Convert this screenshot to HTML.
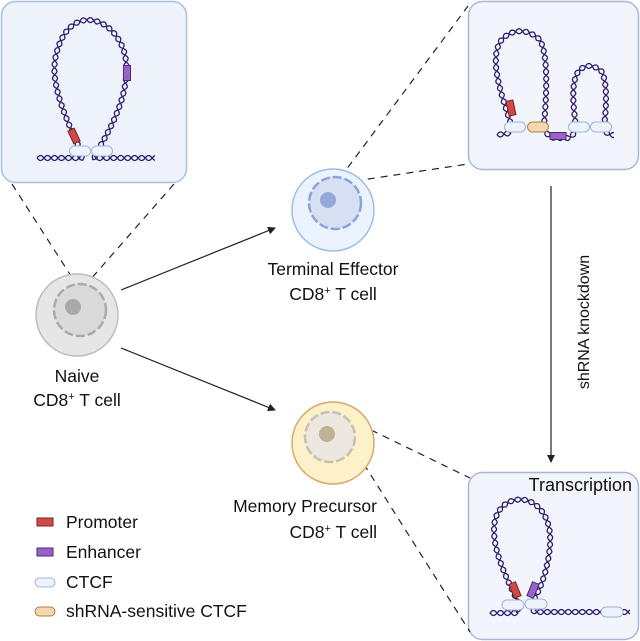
<!DOCTYPE html>
<html><head><meta charset="utf-8">
<style>
body{margin:0;background:#fff;}
svg{display:block;}
text{font-family:"Liberation Sans",sans-serif;fill:#111;}
</style></head>
<body>
<svg id="s" width="640" height="641" viewBox="0 0 640 641" xmlns="http://www.w3.org/2000/svg">
<defs>
<marker id="ah" markerWidth="8" markerHeight="8" refX="7" refY="4" orient="auto" markerUnits="userSpaceOnUse">
<path d="M0,0 L8,4 L0,8 Z" fill="#222"/></marker>
</defs>
<rect x="1.5" y="1.5" width="185" height="181" rx="14" fill="#eef3fb" stroke="#a9bde0" stroke-width="1.5"/>
<rect x="468.5" y="1.5" width="170" height="168" rx="14" fill="#f2f5fb" stroke="#a9b6d6" stroke-width="1.5"/>
<rect x="468.5" y="472.5" width="170" height="167" rx="14" fill="#f2f5fb" stroke="#a9b6d6" stroke-width="1.5"/>

<g stroke="#222" stroke-width="1.2" stroke-dasharray="7,6" fill="none">
<path d="M12,184 L80,290"/>
<path d="M174,184 L90,280"/>
<path d="M340,178 L468,6"/>
<path d="M342,183 L468,164"/>
<path d="M336,413 L470,478"/>
<path d="M336,420 L470,632"/>
</g>

<g stroke="#222" stroke-width="1.2" fill="none">
<path d="M121,290 L275,228" marker-end="url(#ah)"/>
<path d="M121,348 L275,410" marker-end="url(#ah)"/>
<path d="M551,186 L551,462" marker-end="url(#ah)"/>
</g>

<circle cx="77" cy="315" r="41" fill="#e6e6e6" stroke="#bdbdbd" stroke-width="1.5"/>
<circle cx="80" cy="310" r="26" fill="#dadada" stroke="#aaa" stroke-width="2.5" stroke-dasharray="9,3"/>
<circle cx="73" cy="307" r="8" fill="#a9a9a9"/>

<circle cx="333" cy="210" r="41" fill="#eaf3fe" stroke="#9ebde8" stroke-width="1.5"/>
<circle cx="335" cy="203" r="26" fill="#d7dff2" stroke="#8aa3d8" stroke-width="2.5" stroke-dasharray="9,3"/>
<circle cx="328" cy="200" r="8" fill="#95a9dc"/>

<circle cx="333" cy="443" r="41" fill="#fdf1c9" stroke="#d8a868" stroke-width="1.5"/>
<circle cx="330" cy="437" r="25" fill="#ece8df" stroke="#c8c0b0" stroke-width="2.5" stroke-dasharray="9,3"/>
<circle cx="327" cy="434" r="8" fill="#bfb295"/>

<g id="dna" fill="none" stroke="#2e1f6e" stroke-width="1.3"></g>
<g id="parts"></g>

<g font-size="17.5">
<text x="333" y="275" text-anchor="middle">Terminal Effector</text>
<text x="333" y="300" text-anchor="middle">CD8<tspan font-size="11" dy="-6">+</tspan><tspan dy="6"> T cell</tspan></text>
<text x="77" y="382" text-anchor="middle">Naive</text>
<text x="77" y="406" text-anchor="middle">CD8<tspan font-size="11" dy="-6">+</tspan><tspan dy="6"> T cell</tspan></text>
<text x="377" y="512" text-anchor="end">Memory Precursor</text>
<text x="377" y="538" text-anchor="end">CD8<tspan font-size="11" dy="-6">+</tspan><tspan dy="6"> T cell</tspan></text>
<text x="632" y="491" font-size="18" text-anchor="end">Transcription</text>
<text transform="translate(589,322) rotate(-90)" font-size="16" text-anchor="middle">shRNA knockdown</text>

<rect x="37" y="518" width="16" height="8" fill="#cf4a45" stroke="#7a2222"/>
<text x="66" y="528">Promoter</text>
<rect x="37" y="548" width="16" height="8" fill="#9a62c8" stroke="#4a2a7a"/>
<text x="66" y="558">Enhancer</text>
<rect x="35" y="578" width="20" height="9" rx="4.5" fill="#eef3fb" stroke="#9fb4dc"/>
<text x="66" y="588">CTCF</text>
<rect x="35" y="607" width="20" height="9" rx="4.5" fill="#f2d7b0" stroke="#b7803f"/>
<text x="66" y="617">shRNA-sensitive CTCF</text>
</g>
</svg>
<script>
(function(){
var NS="http://www.w3.org/2000/svg";
var g=document.getElementById('dna'), parts=document.getElementById('parts');
function helix(d){
  var p=document.createElementNS(NS,'path');p.setAttribute('d',d);
  p.setAttribute('stroke','none');g.appendChild(p);
  var L=p.getTotalLength(),a="",b="",A=2.5,P=14;
  for(var s=0;s<=L;s+=0.7){
    var q=p.getPointAtLength(s),q2=p.getPointAtLength(Math.min(L,s+0.5)),q1=p.getPointAtLength(Math.max(0,s-0.5));
    var dx=q2.x-q1.x,dy=q2.y-q1.y,n=Math.hypot(dx,dy)||1,nx=-dy/n,ny=dx/n;
    var o=A*Math.sin(2*Math.PI*s/P);
    a+=(s?"L":"M")+(q.x+nx*o).toFixed(2)+","+(q.y+ny*o).toFixed(2);
    b+=(s?"L":"M")+(q.x-nx*o).toFixed(2)+","+(q.y-ny*o).toFixed(2);
  }
  [a,b].forEach(function(dd){var e=document.createElementNS(NS,'path');e.setAttribute('d',dd);g.appendChild(e);});
}
function rect(x,y,w,h,rot,fill,stroke,rx){
  var r=document.createElementNS(NS,'rect');
  r.setAttribute('x',x-w/2);r.setAttribute('y',y-h/2);r.setAttribute('width',w);r.setAttribute('height',h);
  if(rx)r.setAttribute('rx',rx);
  r.setAttribute('fill',fill);r.setAttribute('stroke',stroke);r.setAttribute('stroke-width','1');
  r.setAttribute('transform','rotate('+rot+' '+x+' '+y+')');parts.appendChild(r);
}
helix("M37,158 L82,158 Q80,150 78,145 C62,110 50,80 56,55 C62,30 75,20 88,20 C105,20 120,35 125,55 C130,80 122,110 99,148 Q96,155 94,158 L155,158");
rect(74,136,7,14,-25,'#cf4a45','#7a2222');
rect(127,73,7,15,0,'#9a62c8','#4a2a7a');
rect(80,151,21,10,0,'#eef3fb','#9fb4dc',5);
rect(102,151,21,10,0,'#eef3fb','#9fb4dc',5);
helix("M497,135 L510,133 Q512,125 508,115 C500,90 490,60 500,42 C510,28 528,28 540,40 C548,55 547,90 544,125 Q546,138 556,138 L568,138 Q575,135 576,128 C574,110 570,85 578,72 C585,63 595,65 602,72 C608,85 606,110 604,128 Q606,135 614,135");
rect(511,108,7,15,-12,'#cf4a45','#7a2222');
rect(515,127,21,10,0,'#eef3fb','#9fb4dc',5);
rect(538,127,21,10,0,'#f2d7b0','#b7803f',5);
rect(558,136,16,7,0,'#9a62c8','#4a2a7a');
rect(579,127,21,10,0,'#eef3fb','#9fb4dc',5);
rect(601,127,21,10,0,'#eef3fb','#9fb4dc',5);
helix("M490,613 L517,613 Q520,608 517,600 C505,575 490,545 495,520 C500,502 515,498 525,500 C540,503 552,520 550,545 C548,570 540,590 533,601 Q530,608 535,612 L630,612");
rect(515,590,7,15,-22,'#cf4a45','#7a2222');
rect(533,590,7,15,22,'#9a62c8','#4a2a7a');
rect(513,605,22,10,0,'#eef3fb','#9fb4dc',5);
rect(536,604,22,10,0,'#eef3fb','#9fb4dc',5);
rect(612,612,22,10,0,'#eef3fb','#9fb4dc',5);
})();
</script>
</body></html>
